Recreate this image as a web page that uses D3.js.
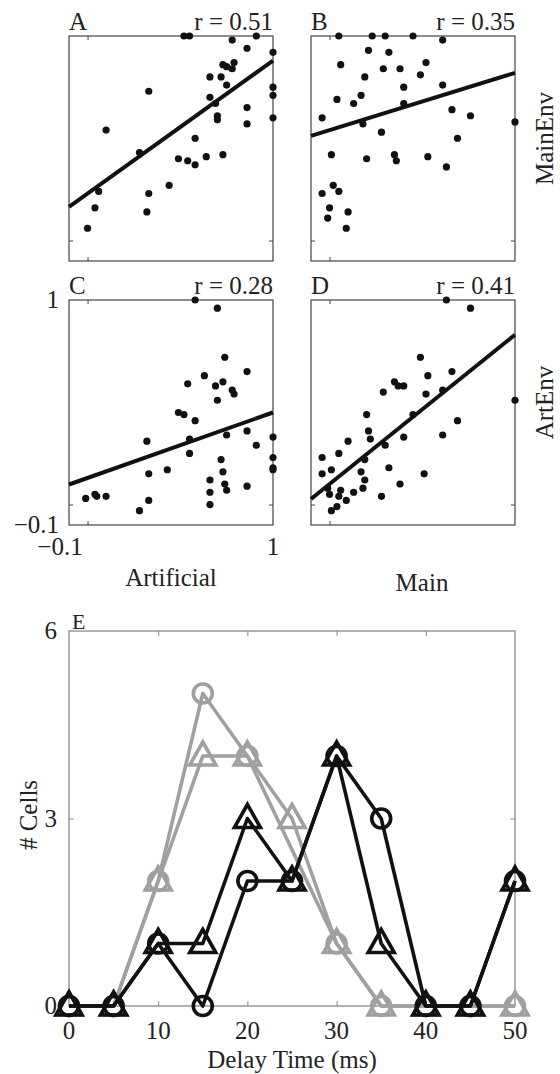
<!DOCTYPE html>
<html lang="en">
<head>
<meta charset="UTF-8">
<title>Delay correlations and delay time histogram</title>
<script src="https://d3js.org/d3.v7.min.js"></script>
<style>
  body { margin: 0; background: #fff; }
  svg text { font-family: "Liberation Serif", "DejaVu Serif", serif; fill: #222; font-size: 25px; }
</style>
</head>
<body>
<svg width="560" height="1074"></svg>
<script>
// scatter panels, [x, y] pairs
const ptsA = [[0.52,1.0],[0.55,1.0],[0.78,0.98],[0.91,1.0],[0.86,0.94],[1.0,0.92],[0.73,0.86],[0.79,0.87],
  [0.75,0.85],[0.78,0.84],[0.72,0.80],[0.66,0.80],[0.75,0.76],[0.33,0.73],[1.0,0.75],[1.0,0.71],[0.66,0.70],
  [0.69,0.67],[0.70,0.61],[0.70,0.59],[0.86,0.65],[0.86,0.57],[1.0,0.60],[0.10,0.54],[0.58,0.50],[0.28,0.43],
  [0.49,0.40],[0.54,0.39],[0.58,0.37],[0.64,0.41],[0.73,0.42],[0.44,0.27],[0.06,0.24],[0.33,0.23],[0.04,0.16],
  [0.32,0.14],[0.0,0.06]];
const ptsB = [[0.05,1.0],[0.23,1.0],[0.30,1.0],[0.45,1.0],[0.61,0.98],[0.21,0.93],[0.32,0.92],[0.06,0.86],
  [0.52,0.87],[0.29,0.84],[0.38,0.84],[0.49,0.81],[0.19,0.80],[0.40,0.75],[0.61,0.76],[0.04,0.69],[0.17,0.71],
  [0.13,0.67],[0.40,0.67],[0.66,0.64],[0.76,0.61],[-0.04,0.60],[1.0,0.58],[0.18,0.57],[0.28,0.53],[0.69,0.50],
  [0.01,0.42],[0.20,0.40],[0.35,0.42],[0.36,0.39],[0.53,0.41],[0.63,0.36],[0.02,0.27],[-0.04,0.23],[0.05,0.24],
  [0.00,0.16],[0.10,0.14],[-0.01,0.11],[0.09,0.06]];
const ptsC = [[0.58,1.0],[0.70,0.96],[0.74,0.72],[0.86,0.65],[0.63,0.63],[0.54,0.59],[0.69,0.58],[0.73,0.60],
  [0.78,0.56],[0.79,0.54],[0.70,0.51],[0.49,0.45],[0.52,0.44],[0.58,0.41],[0.75,0.34],[0.86,0.36],[1.0,0.33],
  [0.32,0.31],[0.55,0.32],[0.91,0.29],[0.55,0.25],[1.0,0.23],[0.72,0.22],[1.0,0.18],[1.0,0.17],[0.43,0.17],
  [0.33,0.15],[0.73,0.16],[0.66,0.12],[0.74,0.10],[0.75,0.07],[0.86,0.09],[0.66,0.06],[0.04,0.05],[0.05,0.04],
  [0.10,0.04],[-0.01,0.03],[0.33,0.02],[0.66,0.0],[0.28,-0.03]];
const ptsD = [[0.63,1.0],[0.76,0.96],[0.49,0.72],[0.66,0.65],[0.53,0.63],[0.35,0.60],[0.37,0.58],[0.40,0.58],
  [0.29,0.55],[0.52,0.54],[0.61,0.56],[1.0,0.51],[0.45,0.44],[0.20,0.44],[0.69,0.41],[0.21,0.36],[0.61,0.34],
  [0.22,0.32],[0.40,0.33],[0.10,0.31],[0.30,0.29],[0.05,0.25],[-0.04,0.23],[0.19,0.22],[0.01,0.17],[-0.04,0.15],
  [0.17,0.16],[0.32,0.18],[0.51,0.15],[0.19,0.12],[-0.01,0.08],[0.06,0.07],[0.18,0.08],[0.13,0.06],[0.38,0.10],
  [0.00,0.05],[0.05,0.04],[0.09,0.02],[0.28,0.04],[0.04,-0.01],[0.01,-0.03]];

const panelLetters = ["A", "B", "C", "D"];
const rValues = ["0.51", "0.35", "0.28", "0.41"];
const fitIntercepts = [0.23, 0.54, 0.13, 0.10];
const fitSlopes = [0.65, 0.28, 0.32, 0.73];
const rowLabels = ["MainEnv", "ArtEnv"];
const colLabels = ["Artificial", "Main"];
const scatterLabelTicks = [-0.1, 1];

// panel E: number of cells per delay time
const delays = [0, 5, 10, 15, 20, 25, 30, 35, 40, 45, 50];
const grayCircles    = [0, 0, 2, 5, 4, null, 1, 0, 0, 0, 0];
const grayTriangles  = [0, 0, 2, 4, 4, 3, 1, 0, 0, 0, 0];
const blackCircles   = [0, 0, 1, 0, 2, 2, 4, 3, 0, 0, 2];
const blackTriangles = [0, 0, 1, 1, 3, 2, 4, 1, 0, 0, 2];
const delayTicks = [0, 10, 20, 30, 40, 50];
const countTicks = [0, 3, 6];

const svg = d3.select("svg");

const pw = 204, ph = 225;
const panelPos = [[69, 36], [311, 36], [69, 300], [311, 300]];
const allPts = [ptsA, ptsB, ptsC, ptsD];

const x = d3.scaleLinear().domain([-0.1, 1]).range([0, pw]);
const y = d3.scaleLinear().domain([-0.1, 1]).range([ph, 0]);

allPts.forEach((pts, i) => {
  const g = svg.append("g").attr("transform", `translate(${panelPos[i][0]},${panelPos[i][1]})`);

  g.append("rect")
    .attr("width", pw).attr("height", ph)
    .attr("fill", "none").attr("stroke", "#444").attr("stroke-width", 1.2);

  // small inward ticks at zero
  const tickAxes = [
    [d3.axisBottom(x), `translate(0,${ph})`],
    [d3.axisTop(x), "translate(0,0)"],
    [d3.axisLeft(y), "translate(0,0)"],
    [d3.axisRight(y), `translate(${pw},0)`]
  ];
  tickAxes.forEach(([ax, tr]) => {
    const a = g.append("g").attr("transform", tr)
      .call(ax.tickValues([0]).tickSize(-4).tickFormat(""));
    a.select(".domain").remove();
    a.selectAll("line").attr("stroke", "#444");
  });

  // fit line
  const b = fitIntercepts[i], m = fitSlopes[i];
  g.append("line")
    .attr("x1", x(-0.1)).attr("y1", y(b + m * -0.1))
    .attr("x2", x(1)).attr("y2", y(b + m * 1))
    .attr("stroke", "#111").attr("stroke-width", 4);

  g.selectAll(".dot")
    .data(pts)
    .enter().append("circle")
    .attr("cx", d => x(d[0]))
    .attr("cy", d => y(d[1]))
    .attr("r", 3.6)
    .attr("fill", "#111");

  g.append("text").attr("x", 0).attr("y", -6).text(panelLetters[i]);
  g.append("text").attr("x", pw).attr("y", -6).attr("text-anchor", "end")
    .text("r = " + rValues[i]);

  // tick labels only on panel C
  if (i === 2) {
    scatterLabelTicks.forEach(v => {
      g.append("text").attr("x", -10).attr("y", y(v) + 8)
        .attr("text-anchor", "end").text(d3.format("")(v));
      g.append("text").attr("x", x(v) + (v < 0 ? -9 : 0)).attr("y", ph + 30)
        .attr("text-anchor", "middle").text(d3.format("")(v));
    });
  }
});

rowLabels.forEach((lab, r) => {
  const cy = panelPos[r * 2][1] + ph / 2 - 10;
  svg.append("text")
    .attr("transform", `translate(553,${cy}) rotate(-90)`)
    .attr("text-anchor", "middle")
    .text(lab);
});

colLabels.forEach((lab, c) => {
  svg.append("text")
    .attr("x", panelPos[c][0] + pw / 2 + (c === 0 ? 0 : 9))
    .attr("y", c === 0 ? 586 : 591)
    .attr("text-anchor", "middle")
    .text(lab);
});

// ---- panel E ----
const ex = d3.scaleLinear().domain([0, 50]).range([69, 515]);
const ey = d3.scaleLinear().domain([0, 6]).range([1006, 631]);

const eg = svg.append("g");
eg.append("rect")
  .attr("x", ex(0)).attr("y", ey(6))
  .attr("width", ex(50) - ex(0)).attr("height", ey(0) - ey(6))
  .attr("fill", "none").attr("stroke", "#999").attr("stroke-width", 1.5);

const inner = [10, 20, 30, 40];
[[d3.axisBottom(ex), `translate(0,${ey(0)})`, inner], [d3.axisTop(ex), `translate(0,${ey(6)})`, inner],
 [d3.axisLeft(ey), `translate(${ex(0)},0)`, [3]], [d3.axisRight(ey), `translate(${ex(50)},0)`, [3]]]
  .forEach(([ax, tr, vals]) => {
    const a = eg.append("g").attr("transform", tr)
      .call(ax.tickValues(vals).tickSize(-5).tickFormat(""));
    a.select(".domain").remove();
    a.selectAll("line").attr("stroke", "#888");
  });

delayTicks.forEach(v => {
  eg.append("text").attr("x", ex(v)).attr("y", 1039).attr("text-anchor", "middle").text(v);
});
countTicks.forEach(v => {
  eg.append("text").attr("x", 57).attr("y", ey(v) + 8).attr("text-anchor", "end").text(v);
});

eg.append("text").attr("x", 72).attr("y", 629).style("font-size", "22px").text("E");
eg.append("text").attr("x", 292).attr("y", 1068).attr("text-anchor", "middle").text("Delay Time (ms)");
eg.append("text")
  .attr("transform", `translate(37,815) rotate(-90)`)
  .attr("text-anchor", "middle")
  .text("# Cells");

const series = [
  { vals: grayCircles, color: "#a0a0a0", marker: "circle" },
  { vals: grayTriangles, color: "#a0a0a0", marker: "triangle" },
  { vals: blackCircles, color: "#111", marker: "circle" },
  { vals: blackTriangles, color: "#111", marker: "triangle" }
];

const line = d3.line().x(d => ex(d[0])).y(d => ey(d[1]));

series.forEach(s => {
  const pts = delays.map((d, i) => [d, s.vals[i]]).filter(p => p[1] !== null);
  eg.append("path")
    .attr("d", line(pts))
    .attr("fill", "none")
    .attr("stroke", s.color)
    .attr("stroke-width", 3.6)
    .attr("stroke-linejoin", "round");

  const mk = eg.selectAll(null).data(pts).enter();
  if (s.marker === "circle") {
    mk.append("circle")
      .attr("cx", d => ex(d[0])).attr("cy", d => ey(d[1]))
      .attr("r", 9.5)
      .attr("fill", "none").attr("stroke", s.color).attr("stroke-width", 3.6);
  } else {
    mk.append("path")
      .attr("transform", d => `translate(${ex(d[0])},${ey(d[1])})`)
      .attr("d", "M0,-14L13,9L-13,9Z")
      .attr("fill", "none").attr("stroke", s.color).attr("stroke-width", 3.6)
      .attr("stroke-linejoin", "miter");
  }
});
</script>
</body>
</html>
